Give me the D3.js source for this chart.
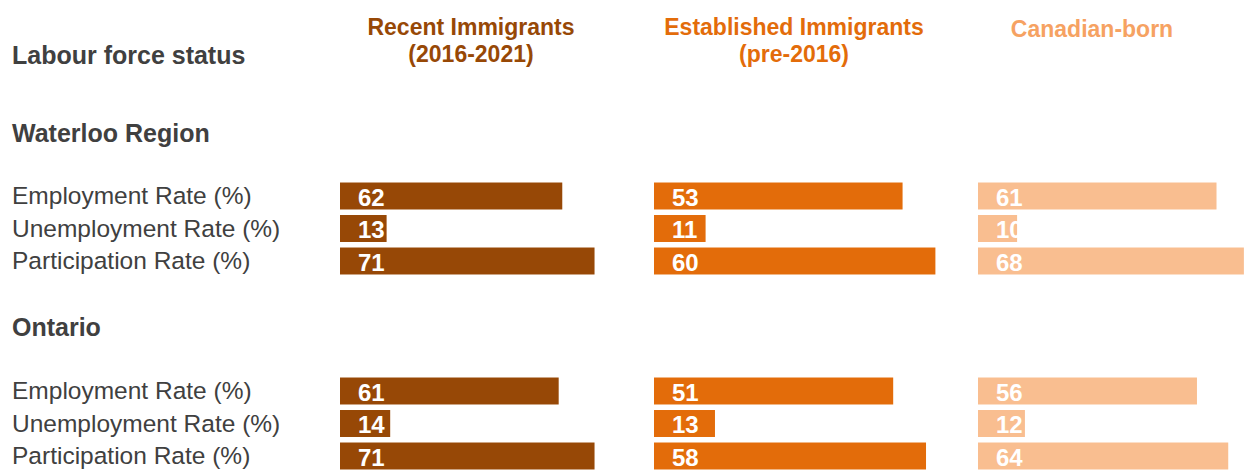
<!DOCTYPE html>
<html>
<head>
<meta charset="utf-8">
<script src="https://cdn.jsdelivr.net/npm/d3@7"></script>
<style>
  html, body { margin: 0; padding: 0; background: #ffffff; }
  svg { display: block; font-family: "Liberation Sans", Arial, sans-serif; }
</style>
</head>
<body>
<svg id="chart" width="1246" height="470"></svg>
<script>
// Labour force status by immigrant status, Waterloo Region vs Ontario (2021)
const groups = ["Recent Immigrants", "Established Immigrants", "Canadian-born"];
const groupSubtitles = ["(2016-2021)", "(pre-2016)", ""];
const regions = ["Waterloo Region", "Ontario"];
const metrics = ["Employment Rate (%)", "Unemployment Rate (%)", "Participation Rate (%)"];

// values[group][metric] for each region
const waterlooRecent = [62, 13, 71];
const waterlooEstablished = [53, 11, 60];
const waterlooCanadian = [61, 10, 68];
const ontarioRecent = [61, 14, 71];
const ontarioEstablished = [51, 13, 58];
const ontarioCanadian = [56, 12, 64];

const regionValues = [
  [waterlooRecent, waterlooEstablished, waterlooCanadian],
  [ontarioRecent, ontarioEstablished, ontarioCanadian]
];

// Styling
const barColors = ["#974806", "#e36c0a", "#f9be90"];
const headColors = ["#974806", "#e36c0a", "#f6a262"];
const textGray = "#404040";

const svg = d3.select("#chart");

// Each column has its own bar start and its own length scale
const colStart = [340, 654, 978];
const colWidth100 = [358.5, 469, 391];
const headCenter = [471, 794, 1092];
const xScales = colWidth100.map(w => d3.scaleLinear().domain([0, 100]).range([0, w]));

// Row bands for each region block
const blockTop = [179.75, 374.75];
const blockHeight = 97.5;
const yScales = blockTop.map(t =>
  d3.scaleBand().domain(metrics).range([t, t + blockHeight]).paddingInner(0.17).paddingOuter(0.085)
);

// Column header
svg.append("text")
  .attr("x", 12).attr("y", 64)
  .attr("font-size", 25).attr("font-weight", "bold")
  .attr("fill", textGray)
  .text("Labour force status");

groups.forEach((g, i) => {
  const t = svg.append("text")
    .attr("text-anchor", "middle")
    .attr("font-size", 23).attr("font-weight", "bold")
    .attr("fill", headColors[i]);
  t.append("tspan").attr("x", headCenter[i]).attr("y", i === 2 ? 37 : 35).text(g);
  if (groupSubtitles[i]) {
    t.append("tspan").attr("x", headCenter[i]).attr("y", 62).text(groupSubtitles[i]);
  }
});

// Region blocks
const regionTitleY = [142, 336];
regions.forEach((r, ri) => {
  svg.append("text")
    .attr("x", 12).attr("y", regionTitleY[ri])
    .attr("font-size", 25).attr("font-weight", "bold")
    .attr("fill", textGray)
    .text(r);

  const y = yScales[ri];

  // Row labels
  svg.append("g").selectAll("text")
    .data(metrics)
    .join("text")
    .attr("x", 12)
    .attr("y", d => y(d) + y.bandwidth() / 2 + 8)
    .attr("font-size", 24.5)
    .attr("fill", textGray)
    .text(d => d);

  // Bars and value labels per column
  groups.forEach((g, gi) => {
    const x = xScales[gi];
    const vals = regionValues[ri][gi];
    const rows = metrics.map((m, mi) => ({ metric: m, value: vals[mi] }));
    const col = svg.append("g").attr("transform", `translate(${colStart[gi]},0)`);

    col.selectAll("rect")
      .data(rows)
      .join("rect")
      .attr("x", 0)
      .attr("y", d => y(d.metric))
      .attr("width", d => x(d.value))
      .attr("height", y.bandwidth())
      .attr("fill", barColors[gi]);

    col.selectAll("text")
      .data(rows)
      .join("text")
      .attr("x", 18)
      .attr("y", d => y(d.metric) + y.bandwidth() / 2 + 9.5)
      .attr("font-size", 24)
      .attr("font-weight", "bold")
      .attr("fill", "#ffffff")
      .text(d => d.value);
  });
});
</script>
</body>
</html>
